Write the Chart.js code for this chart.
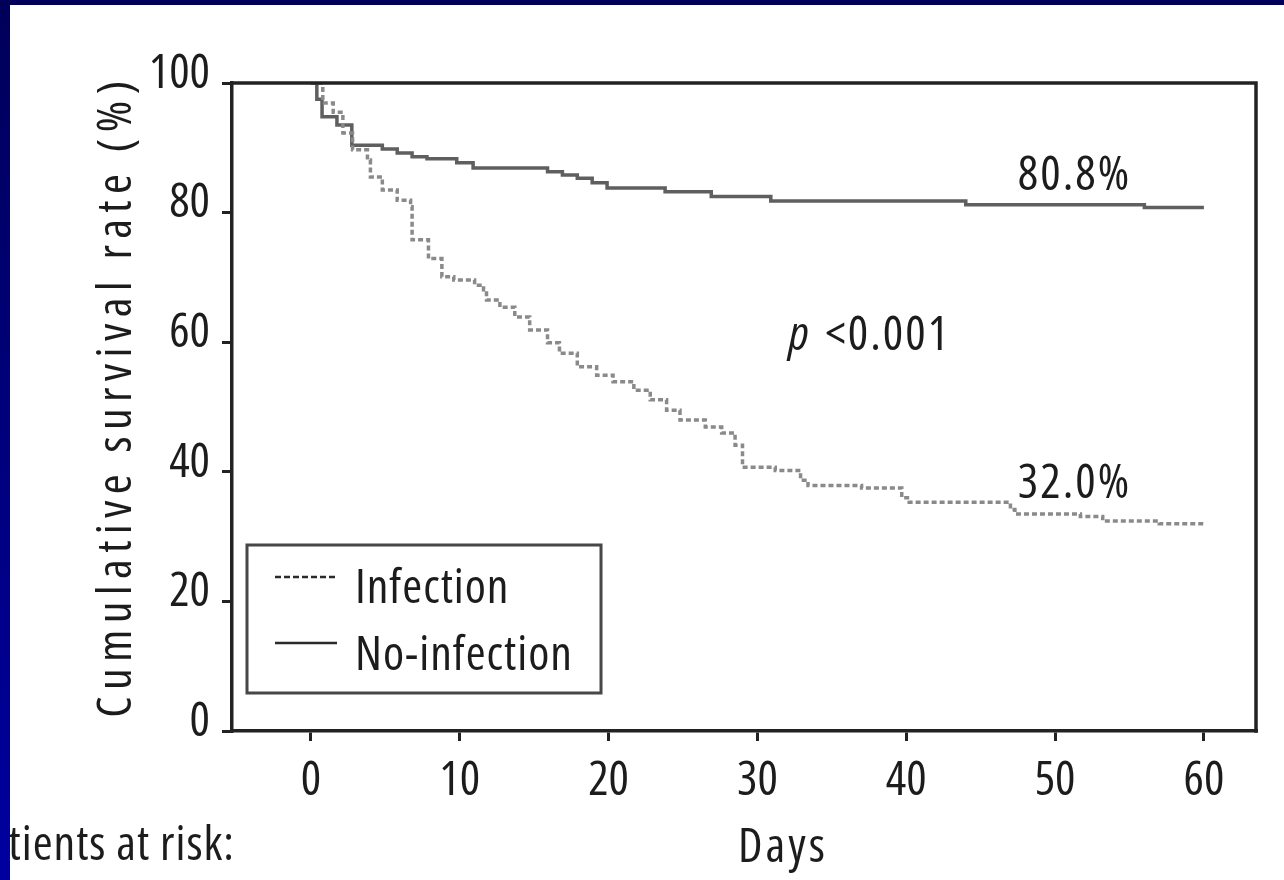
<!DOCTYPE html>
<html><head><meta charset="utf-8">
<script src="https://cdn.jsdelivr.net/npm/chart.js@4/dist/chart.umd.min.js"></script>
<style>
html,body{margin:0;padding:0;background:#fff;overflow:hidden}
#wrap{position:relative;width:1284px;height:880px;background:#fff}
#c{position:absolute;left:0;top:0}
#bl{position:absolute;left:0;top:0;width:10px;height:880px;background:linear-gradient(#00005a,#0000a0)}
#bt{position:absolute;left:0;top:0;width:1284px;height:5px;background:#000058}
</style></head><body>
<div id="wrap"><canvas id="c" width="1284" height="880"></canvas><div id="bl"></div><div id="bt"></div></div>
<script>
// ---- data ----
const xTicks = [0, 10, 20, 30, 40, 50, 60];
const yTicks = [0, 20, 40, 60, 80, 100];
const seriesLabels = ['Infection', 'No-infection'];
const infectionDays = [0, 0.8, 1.5, 2.15, 2.8, 3.8, 4.0, 4.8, 5.8, 6.7, 6.8, 7.9, 8.8, 9.6, 11.0, 11.6, 11.8, 12.7, 13.7, 14.7, 15.9, 16.7, 17.9, 19.2, 20.3, 21.7, 22.8, 23.9, 24.8, 26.5, 27.6, 28.5, 29.0, 31.2, 32.9, 33.4, 37.0, 39.7, 40.2, 47.0, 47.3, 51.7, 53.2, 57.0, 60.0];
const infectionSurv = [100, 96.9, 95.5, 92.3, 89.7, 88.1, 85.5, 83.5, 81.9, 80.9, 75.8, 72.9, 70.1, 69.6, 68.8, 68.1, 66.5, 65.4, 63.9, 61.9, 59.9, 58.3, 56.2, 54.9, 53.9, 52.6, 51.1, 49.5, 48.0, 46.9, 46.0, 44.1, 40.7, 40.2, 38.7, 37.9, 37.5, 36.0, 35.3, 34.2, 33.5, 33.1, 32.4, 32.0, 32.0];
const noInfDays = [0, 0.4, 0.75, 1.75, 2.75, 4.8, 5.8, 6.8, 7.8, 9.8, 10.9, 15.9, 16.9, 17.9, 18.9, 19.9, 23.8, 26.9, 30.9, 44.0, 56.0, 60.0];
const noInfSurv = [100, 97.5, 94.8, 93.5, 90.4, 89.8, 89.2, 88.6, 88.3, 87.7, 86.9, 86.3, 85.8, 85.3, 84.6, 83.8, 83.2, 82.5, 81.8, 81.2, 80.8, 80.8];
const xTitle = 'Days';
const yTitle = 'Cumulative survival rate (%)';
const endLabels = ['32.0%', '80.8%'];
const endLabelPos = [[47.5, 36.0], [47.5, 83.5]];
const pLabel = ['p', ' <0.001'];
const pLabelPos = [32.1, 58.8];
const riskText = 'Patients at risk:';

// ---- font choice: the narrowest available face ----
const mc = document.createElement('canvas').getContext('2d');
function w(font, s) { mc.font = font; return mc.measureText(s).width; }
function hasFont(f) {
  const s = '0123456789abcdefghijklm';
  return Math.abs(w('40px monospace', s) - w('40px "' + f + '", monospace', s)) > 0.5;
}
let best = {fam: '"DejaVu Sans"', st: '', adv: 1};
['Liberation Sans Narrow', 'Noto Sans', 'Roboto', 'Open Sans', 'Inter', 'DejaVu Sans', 'Liberation Sans'].forEach(f => {
  if (!hasFont(f)) return;
  ['extra-condensed', 'condensed', 'semi-condensed', ''].forEach(st => {
    const adv = w((st ? st + ' ' : '') + '100px "' + f + '"', '0000000000') / 1000;
    if (Math.abs(adv - 0.42) < Math.abs(best.adv - 0.42)) best = {fam: '"' + f + '"', st: st, adv: adv};
  });
});
const FAM = best.fam, ST = best.st || undefined;
mc.font = (ST ? ST + ' ' : '') + '100px ' + FAM;
const digitH = mc.measureText('0').actualBoundingBoxAscent || 72;
let FS = Math.round(35 / digitH * 100);
FS = Math.min(FS, Math.round(21 / best.adv));
const FONT = (ST ? ST + ' ' : '') + FS + 'px ' + FAM;
const TXT = '#1c1c1c';

const framePlugin = {
  id: 'frame',
  afterDatasetsDraw(chart) {
    const {ctx, chartArea: a} = chart;
    ctx.save();
    ctx.strokeStyle = '#222'; ctx.lineWidth = 3.5; ctx.lineCap = 'square';
    ctx.beginPath();
    ctx.moveTo(a.left, a.top); ctx.lineTo(a.right, a.top); ctx.lineTo(a.right, a.bottom);
    ctx.stroke();
    ctx.restore();
  }
};

const textPlugin = {
  id: 'texts',
  afterDraw(chart) {
    const {ctx, chartArea: a, scales: {x, y}} = chart;
    ctx.save();
    ctx.fillStyle = TXT;
    const LS = ('letterSpacing' in ctx);
    if (LS) ctx.letterSpacing = '2px';
    ctx.font = FONT; ctx.textBaseline = 'alphabetic'; ctx.textAlign = 'left';
    endLabels.forEach((t, i) => ctx.fillText(t, x.getPixelForValue(endLabelPos[i][0]), y.getPixelForValue(endLabelPos[i][1])));
    const px = x.getPixelForValue(pLabelPos[0]), py = y.getPixelForValue(pLabelPos[1]);
    ctx.font = 'italic ' + FONT; ctx.fillText(pLabel[0], px, py);
    const pw = ctx.measureText(pLabel[0]).width;
    ctx.font = FONT; ctx.fillText(pLabel[1], px + pw + 4, py);
    // legend
    if (LS) ctx.letterSpacing = '1px';
    const lx = a.left + 15, ly = 545, lw = 354, lh = 148;
    ctx.strokeStyle = '#474747'; ctx.lineWidth = 3;
    ctx.strokeRect(lx, ly, lw, lh);
    ctx.strokeStyle = '#2a2a2a'; ctx.lineWidth = 2.5;
    ctx.setLineDash([6, 3]);
    ctx.beginPath(); ctx.moveTo(lx + 28, ly + 32); ctx.lineTo(lx + 90, ly + 32); ctx.stroke();
    ctx.setLineDash([]);
    ctx.beginPath(); ctx.moveTo(lx + 28, ly + 98); ctx.lineTo(lx + 90, ly + 98); ctx.stroke();
    ctx.fillText(chart.data.datasets[0].label, lx + 108, ly + 58);
    ctx.fillText(chart.data.datasets[1].label, lx + 108, ly + 125);
    // x title
    if (LS) ctx.letterSpacing = '3px';
    ctx.textAlign = 'center';
    ctx.fillText(xTitle, 783, 862);
    // patients at risk
    if (LS) ctx.letterSpacing = '1px';
    ctx.textAlign = 'right';
    ctx.fillText(riskText, 235, 860);
    // y title
    ctx.translate(117.5, 396);
    ctx.rotate(-Math.PI / 2);
    ctx.textAlign = 'center'; ctx.textBaseline = 'middle';
    if (LS) {
      ctx.letterSpacing = '0px';
      const w0 = ctx.measureText(yTitle).width;
      const ls = Math.max(0, (637 - w0) / (yTitle.length - 1));
      ctx.letterSpacing = ls.toFixed(2) + 'px';
    }
    ctx.fillText(yTitle, 0, 0);
    ctx.restore();
  }
};

const tickFont = {family: FAM, size: FS, weight: ST};
const ctx = document.getElementById('c').getContext('2d');
new Chart(ctx, {
  type: 'line',
  data: {
    datasets: [
      {label: seriesLabels[0], data: infectionDays.map((d, i) => ({x: d, y: infectionSurv[i]})),
       stepped: true, borderColor: '#8a8a8a', borderWidth: 3.5, borderDash: [5, 3], pointRadius: 0, fill: false},
      {label: seriesLabels[1], data: noInfDays.map((d, i) => ({x: d, y: noInfSurv[i]})),
       stepped: true, borderColor: '#5f5f5f', borderWidth: 3.5, pointRadius: 0, fill: false}
    ]
  },
  options: {
    responsive: false, animation: false, devicePixelRatio: 1,
    layout: {padding: {left: 0, right: 28, top: 83, bottom: 0}},
    plugins: {legend: {display: false}, tooltip: {enabled: false}},
    scales: {
      x: {
        type: 'linear', min: -5.3, max: 63.5,
        afterBuildTicks: s => { s.ticks = xTicks.map(v => ({value: v})); },
        afterFit: s => { s.height = 149; },
        grid: {drawOnChartArea: false, drawTicks: true, tickLength: 10, color: '#222', lineWidth: 3},
        border: {display: true, color: '#222', width: 3.5},
        ticks: {color: TXT, font: tickFont, padding: 12, maxRotation: 0, autoSkip: false}
      },
      y: {
        type: 'linear', min: 0, max: 100,
        afterBuildTicks: s => { s.ticks = yTicks.map(v => ({value: v})); },
        afterFit: s => { s.width = 232; },
        grid: {drawOnChartArea: false, drawTicks: true, tickLength: 10, color: '#222', lineWidth: 3},
        border: {display: true, color: '#222', width: 3.5},
        ticks: {color: TXT, font: Object.assign({lineHeight: 0.37}, tickFont), padding: 12, autoSkip: false,
                callback: v => [String(v), '']}
      }
    }
  },
  plugins: [framePlugin, textPlugin]
});
</script>
</body></html>
